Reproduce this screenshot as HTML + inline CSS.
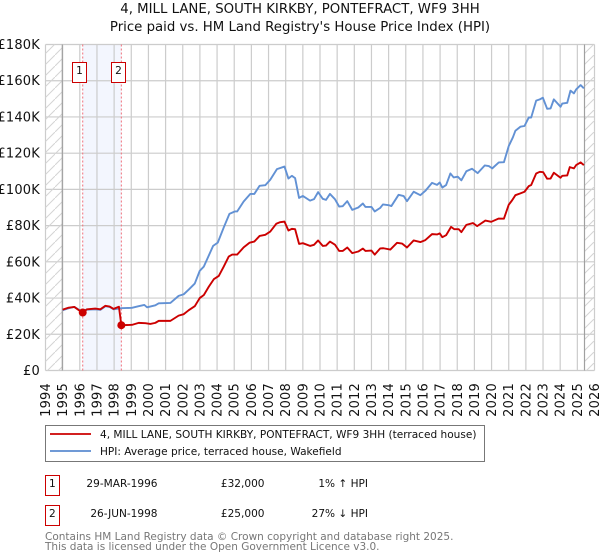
<!DOCTYPE html>
<html>
<head>
<meta charset="utf-8">
<style>
html,body{margin:0;padding:0;background:#fff;}
svg{display:block;}
text{font-family:"DejaVu Sans","Liberation Sans",sans-serif;fill:#111;}
</style>
</head>
<body>
<svg id="chart" width="600" height="560" viewBox="0 0 600 560" xmlns="http://www.w3.org/2000/svg">
<defs>
<pattern id="hatch" width="11" height="11" patternUnits="userSpaceOnUse">
<path d="M-1 12 L12 -1" stroke="#d4d4d4" stroke-width="1" fill="none"/>
</pattern>
</defs>
<text x="300" y="13" font-size="13.3" text-anchor="middle">4, MILL LANE, SOUTH KIRKBY, PONTEFRACT, WF9 3HH</text>
<text x="300" y="31" font-size="13.3" text-anchor="middle">Price paid vs. HM Land Registry's House Price Index (HPI)</text>
<g id="plot"></g>
<g>
<rect x="45.5" y="425.5" width="439" height="36" fill="#fff" stroke="#777" stroke-width="1"/>
<line x1="50" x2="91" y1="434" y2="434" stroke="#cc0000" stroke-width="1.7"/>
<text x="100" y="438" font-size="10.55">4, MILL LANE, SOUTH KIRKBY, PONTEFRACT, WF9 3HH (terraced house)</text>
<line x1="50" x2="91" y1="451" y2="451" stroke="#5b8bd0" stroke-width="1.7"/>
<text x="100" y="455" font-size="10.55">HPI: Average price, terraced house, Wakefield</text>
</g>
<g>
<rect x="45.5" y="475.5" width="14" height="20" fill="#fff" stroke="#cc0000"/>
<text x="52.3" y="487" text-anchor="middle" font-size="10.55">1</text>
<text x="157.5" y="487" text-anchor="end" font-size="10.55">29-MAR-1996</text>
<text x="264.5" y="487" text-anchor="end" font-size="10.55">£32,000</text>
<text x="368" y="487" text-anchor="end" font-size="10.55">1% ↑ HPI</text>
<rect x="45.5" y="505.5" width="14" height="20" fill="#fff" stroke="#cc0000"/>
<text x="52.3" y="517" text-anchor="middle" font-size="10.55">2</text>
<text x="157.5" y="517" text-anchor="end" font-size="10.55">26-JUN-1998</text>
<text x="264.5" y="517" text-anchor="end" font-size="10.55">£25,000</text>
<text x="368" y="517" text-anchor="end" font-size="10.55">27% ↓ HPI</text>
</g>
<text x="45" y="540" font-size="10.5" style="fill:#777">Contains HM Land Registry data © Crown copyright and database right 2025.</text>
<text x="45" y="550" font-size="10.5" style="fill:#777">This data is licensed under the Open Government Licence v3.0.</text>
</svg>
<script>
const yearTicks = [1994,1995,1996,1997,1998,1999,2000,2001,2002,2003,2004,2005,2006,2007,2008,2009,2010,2011,2012,2013,2014,2015,2016,2017,2018,2019,2020,2021,2022,2023,2024,2025,2026];
const valueTicks = [0,20,40,60,80,100,120,140,160,180];
const valueTickLabels = ['£0','£20K','£40K','£60K','£80K','£100K','£120K','£140K','£160K','£180K'];
const hpiYears = [1995.00,1995.35,1995.68,1996.03,1996.42,1996.90,1997.20,1997.49,1997.74,1997.97,1998.42,1999.04,1999.43,1999.76,1999.92,2000.40,2000.60,2001.28,2001.76,2002.06,2002.35,2002.70,2002.99,2003.23,2003.77,2004.04,2004.39,2004.72,2005.03,2005.17,2005.55,2005.94,2006.17,2006.48,2006.81,2007.10,2007.49,2007.93,2008.16,2008.36,2008.55,2008.78,2009.00,2009.42,2009.65,2009.89,2010.16,2010.35,2010.58,2010.87,2011.12,2011.32,2011.59,2011.88,2012.23,2012.50,2012.65,2013.00,2013.19,2013.51,2013.67,2014.00,2014.16,2014.58,2014.88,2015.07,2015.46,2015.85,2016.14,2016.53,2016.82,2016.98,2017.13,2017.35,2017.60,2017.79,2018.03,2018.24,2018.53,2018.86,2019.19,2019.60,2019.84,2020.04,2020.42,2020.72,2021.00,2021.24,2021.39,2021.68,2021.92,2022.17,2022.31,2022.60,2022.81,2022.99,2023.24,2023.44,2023.63,2024.02,2024.12,2024.41,2024.60,2024.80,2024.93,2025.19,2025.38];
const hpiValues = [33.3,34.4,35.1,33.1,33.6,33.8,33.5,35.5,35.1,33.8,34.4,34.6,35.5,36.2,34.9,36.0,37.1,37.3,41.2,42.1,44.7,48.0,55.0,57.4,68.8,70.6,79.0,86.5,87.8,87.8,93.3,97.5,97.5,102.0,102.3,105.3,111.2,112.6,106.0,107.5,106.2,95.3,96.4,93.8,94.6,98.5,94.8,94.2,97.5,94.6,90.5,90.7,93.5,88.7,90.0,92.2,90.3,90.3,87.8,89.8,91.7,91.3,90.8,97.0,96.3,93.5,98.7,96.8,99.2,103.6,102.5,103.8,101.0,102.4,108.8,106.6,107.0,105.0,110.0,111.4,109.0,113.2,112.9,111.6,114.9,115.0,123.9,128.7,132.4,134.6,135.0,139.7,139.7,149.0,149.7,150.6,144.5,144.7,149.7,145.6,147.4,147.8,154.5,153.0,155.2,157.6,155.8];
const paidYears = [1995.00,1995.35,1995.68,1996.03,1996.17,1996.42,1996.90,1997.20,1997.49,1997.74,1997.97,1998.20,1998.28,1998.42,1999.04,1999.43,1999.82,2000.11,2000.40,2000.60,2001.28,2001.76,2002.06,2002.35,2002.70,2002.99,2003.23,2003.52,2003.81,2004.10,2004.39,2004.68,2004.88,2005.17,2005.55,2005.90,2006.17,2006.48,2006.81,2007.10,2007.45,2007.68,2007.93,2008.16,2008.36,2008.55,2008.78,2009.00,2009.42,2009.65,2009.89,2010.16,2010.35,2010.58,2010.87,2011.12,2011.32,2011.59,2011.88,2012.23,2012.50,2012.65,2013.00,2013.19,2013.51,2013.70,2014.10,2014.49,2014.78,2015.07,2015.46,2015.85,2016.14,2016.53,2016.82,2016.98,2017.13,2017.35,2017.64,2017.83,2018.09,2018.24,2018.53,2018.92,2019.16,2019.64,2019.98,2020.42,2020.72,2021.00,2021.20,2021.39,2021.68,2021.92,2022.17,2022.31,2022.60,2022.81,2023.01,2023.24,2023.44,2023.63,2024.02,2024.12,2024.41,2024.56,2024.80,2024.93,2025.19,2025.38];
const paidValues = [33.6,34.7,35.1,32.7,32.0,33.8,34.2,33.8,35.7,35.3,34.0,34.9,35.2,25.0,25.2,26.3,26.1,25.7,26.3,27.4,27.4,30.3,31.1,33.3,35.5,40.0,41.7,46.3,50.4,52.2,57.4,62.9,64.0,64.0,68.0,70.6,71.2,74.3,74.9,76.7,81.0,81.9,82.2,77.3,78.2,78.0,69.9,70.3,68.8,69.4,71.8,68.8,69.0,71.2,69.5,66.0,66.0,67.9,64.8,65.7,67.3,66.0,66.2,64.0,67.4,67.5,66.8,70.5,70.1,67.9,71.8,70.9,72.0,75.3,75.1,75.7,73.6,74.7,79.3,78.0,78.0,76.4,80.4,81.4,79.7,82.8,82.1,83.9,83.8,91.5,94.0,96.8,97.8,98.7,101.8,102.4,108.8,109.7,109.5,105.9,106.0,109.2,106.4,107.5,107.7,112.3,111.6,113.4,114.9,113.4];
const saleNumbers = ['1','2'];
const saleYears = [1996.17,1998.42];
const saleValues = [32,25];

const NS = 'http://www.w3.org/2000/svg';
const plot = document.getElementById('plot');
const left = 45.5, right = 594.5, top0 = 44.5, bottom = 370.5;
function xScale(year){ return left + (year - 1994) * (right - left) / 32; }
function yScale(v){ return bottom - v * (bottom - top0) / 180; }
function make(tag, attrs){
  const el = document.createElementNS(NS, tag);
  for (const k in attrs) el.setAttribute(k, attrs[k]);
  plot.appendChild(el);
  return el;
}
function linePoints(xs, ys){
  return xs.map((d, i) => xScale(d).toFixed(2) + ',' + yScale(ys[i]).toFixed(2)).join(' ');
}

let el;
el = make('rect', {x:xScale(saleYears[0]), y:top0, width:xScale(saleYears[1])-xScale(saleYears[0]), height:bottom-top0, fill:'#f3f6fe'});



yearTicks.forEach(y => {
  const gx = xScale(y);
  const g = make('line', {x1:gx, x2:gx, y1:top0, y2:bottom, stroke:'#cccccc', 'stroke-width':1.2});
  
  
  const t = make('text', {'font-size':13, 'text-anchor':'end', 'letter-spacing':0.2, transform:'translate(' + (gx + 4.5) + ',383) rotate(-90)'});
  t.textContent = String(y);
  
  
});
valueTicks.forEach((v, i) => {
  const gy = yScale(v);
  const g = make('line', {x1:left, x2:right, y1:gy, y2:gy, stroke:'#cccccc', 'stroke-width':1.2});
  
  
  const t = make('text', {x:40, y:gy + 4.5, 'font-size':13, 'text-anchor':'end', 'letter-spacing':0.2});
  t.textContent = valueTickLabels[i];
  
  
});

el = make('rect', {x:left, y:top0, width:xScale(1995)-left, height:bottom-top0, fill:'url(#hatch)'});


el = make('rect', {x:584.5, y:top0, width:right-584.5, height:bottom-top0, fill:'url(#hatch)'});


el = make('line', {x1:62.3, x2:62.3, y1:top0, y2:bottom, stroke:'#a0a0a0', 'stroke-width':1.2});


el = make('line', {x1:584.5, x2:584.5, y1:top0, y2:bottom, stroke:'#a0a0a0', 'stroke-width':1.2});



saleYears.forEach((d, i) => {
  const sx = xScale(d);
  const l = make('line', {x1:sx, x2:sx, y1:top0, y2:bottom, stroke:'#f0707a', 'stroke-width':1, 'stroke-dasharray':'2 2'});
  
  
});

el = make('polyline', {points:linePoints(hpiYears, hpiValues), fill:'none', stroke:'#6291d4', 'stroke-width':1.9, 'stroke-linejoin':'round'});


el = make('polyline', {points:linePoints(paidYears, paidValues), fill:'none', stroke:'#cc0000', 'stroke-width':1.9, 'stroke-linejoin':'round'});



saleYears.forEach((d, i) => {
  const sx = xScale(d), sy = yScale(saleValues[i]);
  const c = make('circle', {cx:sx, cy:sy, r:4, fill:'#cc0000'});
  
  
  const bx = Math.floor(sx - 10) + 0.5;
  const b = make('rect', {x:bx, y:62.5, width:14, height:20, fill:'#fff', stroke:'#cc0000', 'stroke-width':1});
  
  
  const t = make('text', {x:bx + 7, y:74, 'font-size':10.55, 'text-anchor':'middle'});
  t.textContent = saleNumbers[i];
  
  
});
</script>
</body>
</html>
